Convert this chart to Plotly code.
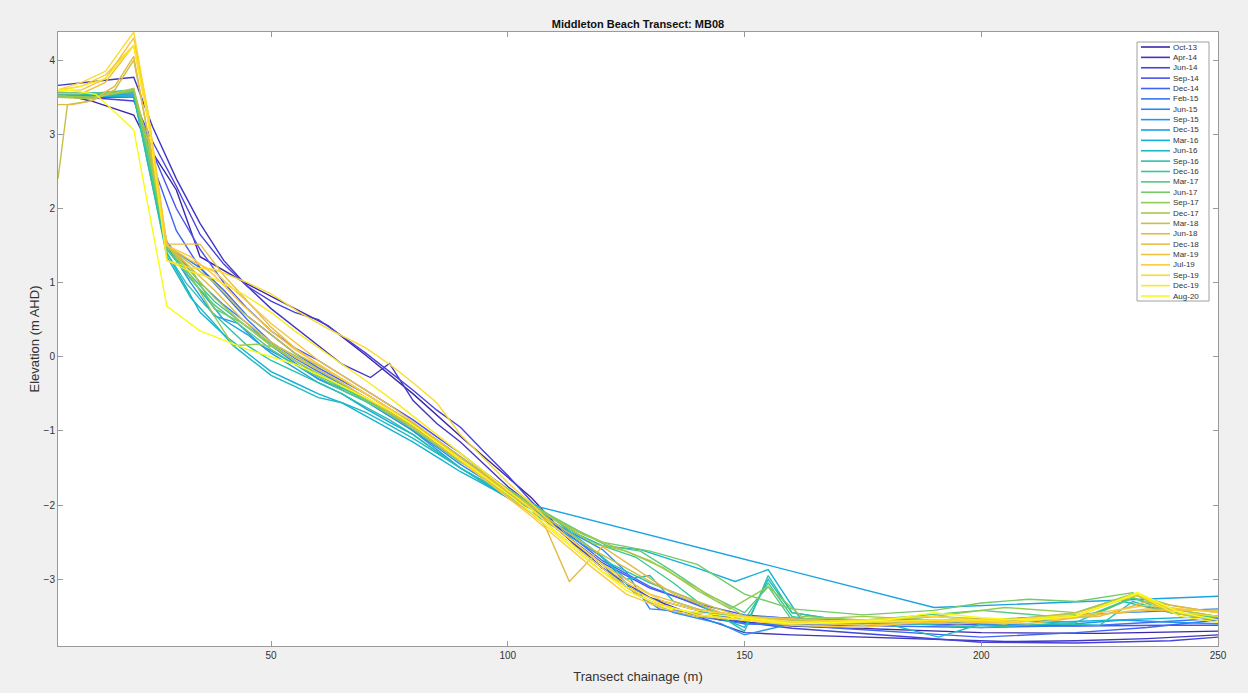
import plotly.graph_objects as go
from plotly.colors import sample_colorscale

# survey labels
surveys = ["Oct-13", "Apr-14", "Jun-14", "Sep-14", "Dec-14", "Feb-15", "Jun-15", "Sep-15",
           "Dec-15", "Mar-16", "Jun-16", "Sep-16", "Dec-16", "Mar-17", "Jun-17", "Sep-17",
           "Dec-17", "Mar-18", "Jun-18", "Dec-18", "Mar-19", "Jul-19", "Sep-19", "Dec-19", "Aug-20"]

# chainage (m) / elevation (m AHD) per survey
x_oct13 = [5, 12, 21, 25, 30, 35, 45, 56, 62, 70, 80, 91, 100, 105, 115, 125, 135, 145, 160, 180, 200, 225, 250]
y_oct13 = [3.55, 3.45, 3.26, 2.75, 2.25, 1.35, 0.98, 0.62, 0.42, 0.02, -0.5, -1.13, -1.62, -1.9, -2.6, -3.1, -3.4, -3.55, -3.63, -3.68, -3.72, -3.73, -3.7]

x_apr14 = [5, 10, 15, 21, 25, 30, 35, 40, 45, 50, 55, 60, 65, 71, 75, 80, 85, 90, 95, 100, 105, 110, 120, 130, 140, 150, 160, 175, 190, 205, 220, 235, 250]
y_apr14 = [3.66, 3.7, 3.73, 3.77, 3.1, 2.4, 1.8, 1.3, 0.95, 0.65, 0.4, 0.15, -0.1, -0.28, -0.09, -0.59, -0.9, -1.15, -1.45, -1.75, -2.0, -2.3, -2.85, -3.25, -3.5, -3.72, -3.75, -3.78, -3.82, -3.84, -3.83, -3.8, -3.75]

x_jun14 = [5, 10, 15, 21, 25, 30, 35, 40, 45, 50, 55, 60, 65, 70, 75, 80, 85, 90, 95, 100, 105, 112, 120, 130, 140, 150, 160, 180, 200, 220, 240, 250]
y_jun14 = [3.55, 3.5, 3.48, 3.45, 2.9, 2.3, 1.65, 1.25, 0.95, 0.75, 0.6, 0.5, 0.28, 0.05, -0.2, -0.45, -0.72, -0.95, -1.28, -1.6, -1.95, -2.4, -2.85, -3.25, -3.42, -3.58, -3.66, -3.75, -3.85, -3.86, -3.83, -3.78]

x_sep14 = [5, 12, 21, 26, 30, 35, 40, 45, 50, 55, 60, 65, 70, 75, 80, 85, 90, 95, 100, 105, 110, 120, 130, 140, 150, 165, 180, 200, 220, 240, 250]
y_sep14 = [3.52, 3.5, 3.5, 2.6, 2.0, 1.45, 1.0, 0.65, 0.35, 0.12, -0.05, -0.25, -0.45, -0.65, -0.85, -1.08, -1.3, -1.55, -1.78, -2.02, -2.3, -2.78, -3.12, -3.33, -3.48, -3.56, -3.6, -3.62, -3.63, -3.62, -3.62]

x_dec14 = [5, 12, 21, 25, 30, 35, 40, 45, 50, 55, 60, 65, 70, 75, 80, 85, 90, 95, 100, 105, 110, 120, 130, 140, 150, 160, 180, 200, 220, 235, 250]
y_dec14 = [3.5, 3.52, 3.55, 2.6, 1.7, 1.2, 0.9, 0.55, 0.3, 0.05, -0.15, -0.32, -0.5, -0.7, -0.9, -1.12, -1.35, -1.58, -1.8, -2.02, -2.25, -2.75, -3.1, -3.35, -3.6, -3.62, -3.7, -3.78, -3.72, -3.65, -3.55]

x_feb15 = [5, 12, 21, 24, 28, 35, 40, 45, 50, 55, 60, 65, 70, 75, 80, 85, 90, 95, 100, 105, 110, 120, 125, 132, 140, 150, 170, 200, 225, 250]
y_feb15 = [3.55, 3.55, 3.58, 2.8, 1.5, 1.2, 0.85, 0.5, 0.2, -0.02, -0.2, -0.38, -0.55, -0.75, -0.95, -1.18, -1.4, -1.62, -1.85, -2.05, -2.3, -2.8, -3.1, -3.4, -3.5, -3.6, -3.62, -3.65, -3.62, -3.53]

x_jun15 = [5, 12, 21, 24, 28, 35, 40, 45, 50, 55, 60, 65, 70, 75, 80, 85, 90, 95, 100, 105, 110, 120, 125, 130, 140, 150, 170, 200, 230, 250]
y_jun15 = [3.5, 3.52, 3.55, 2.7, 1.55, 1.0, 0.7, 0.45, 0.15, -0.08, -0.3, -0.45, -0.6, -0.8, -1.0, -1.22, -1.45, -1.65, -1.85, -2.05, -2.25, -2.6, -2.9, -3.4, -3.45, -3.5, -3.55, -3.55, -3.45, -3.4]

x_sep15 = [5, 12, 21, 24, 28, 33, 38, 43, 48, 55, 60, 65, 70, 75, 80, 85, 90, 95, 100, 105, 110, 120, 127, 135, 145, 150, 160, 180, 200, 210, 220, 230, 240, 250]
y_sep15 = [3.55, 3.55, 3.52, 2.8, 1.5, 1.0, 0.55, 0.45, 0.15, -0.1, -0.3, -0.42, -0.55, -0.75, -1.0, -1.25, -1.5, -1.7, -1.9, -2.1, -2.3, -2.7, -3.2, -3.45, -3.6, -3.75, -3.6, -3.55, -3.6, -3.62, -3.6, -3.55, -3.58, -3.6]

x_dec15 = [5, 12, 21, 24, 28, 35, 40, 45, 50, 55, 60, 65, 70, 75, 80, 85, 90, 95, 100, 107, 190, 250]
y_dec15 = [3.55, 3.55, 3.56, 2.8, 1.45, 0.9, 0.5, 0.3, 0.05, -0.15, -0.35, -0.5, -0.7, -0.88, -1.05, -1.28, -1.5, -1.68, -1.85, -2.03, -3.38, -3.23]

x_mar16 = [5, 12, 21, 24, 28, 35, 40, 45, 50, 55, 60, 65, 70, 75, 80, 85, 90, 95, 100, 105, 110, 115, 120, 128, 134, 140, 148, 155, 162, 175, 190, 200, 215, 230, 250]
y_mar16 = [3.55, 3.52, 3.5, 2.7, 1.4, 0.6, 0.3, 0.05, -0.2, -0.35, -0.5, -0.62, -0.8, -0.98, -1.15, -1.35, -1.55, -1.72, -1.9, -2.05, -2.2, -2.4, -2.55, -2.6, -2.72, -2.85, -3.03, -2.87, -3.55, -3.6, -3.5, -3.55, -3.58, -3.55, -3.5]

x_jun16 = [5, 12, 21, 24, 28, 33, 38, 42, 46, 50, 55, 60, 65, 70, 75, 80, 85, 90, 95, 100, 105, 110, 118, 125, 130, 135, 140, 150, 155, 160, 170, 180, 191, 200, 210, 220, 230, 240, 250]
y_jun16 = [3.55, 3.54, 3.52, 2.6, 1.35, 0.8, 0.45, 0.15, -0.05, -0.25, -0.4, -0.55, -0.62, -0.75, -0.92, -1.1, -1.3, -1.5, -1.7, -1.88, -2.05, -2.25, -2.6, -3.0, -2.95, -3.3, -3.4, -3.65, -3.0, -3.45, -3.55, -3.6, -3.78, -3.6, -3.55, -3.58, -3.3, -3.45, -3.55]

x_sep16 = [5, 12, 21, 24, 28, 32, 36, 40, 45, 50, 55, 60, 65, 70, 75, 80, 85, 90, 95, 100, 105, 110, 115, 122, 130, 138, 145, 150, 155, 160, 170, 185, 200, 215, 225, 232, 240, 250]
y_sep16 = [3.55, 3.55, 3.55, 2.6, 1.4, 1.0, 0.7, 0.45, 0.15, -0.05, -0.2, -0.35, -0.5, -0.68, -0.85, -1.05, -1.28, -1.5, -1.68, -1.85, -2.02, -2.2, -2.45, -2.8, -3.05, -3.25, -3.5, -3.7, -2.95, -3.45, -3.55, -3.6, -3.65, -3.6, -3.62, -3.3, -3.45, -3.5]

x_dec16 = [5, 12, 21, 24, 28, 33, 38, 44, 50, 55, 60, 65, 70, 75, 80, 85, 90, 95, 100, 105, 110, 115, 120, 127, 135, 142, 150, 155, 160, 170, 180, 195, 210, 222, 232, 240, 250]
y_dec16 = [3.55, 3.55, 3.6, 2.7, 1.45, 1.1, 0.75, 0.45, 0.15, -0.05, -0.25, -0.42, -0.58, -0.75, -0.95, -1.15, -1.38, -1.58, -1.8, -2.0, -2.2, -2.4, -2.55, -2.7, -3.05, -3.4, -3.55, -3.05, -3.5, -3.6, -3.58, -3.55, -3.55, -3.5, -3.25, -3.45, -3.52]

x_mar17 = [5, 12, 21, 24, 28, 33, 38, 44, 50, 55, 60, 65, 70, 75, 80, 85, 90, 95, 100, 105, 110, 115, 121, 128, 135, 142, 150, 155, 160, 170, 185, 200, 215, 225, 232, 240, 250]
y_mar17 = [3.55, 3.55, 3.58, 2.7, 1.45, 1.05, 0.7, 0.4, 0.1, -0.1, -0.28, -0.45, -0.6, -0.78, -0.98, -1.2, -1.42, -1.6, -1.82, -2.0, -2.18, -2.35, -2.55, -2.62, -2.9, -3.2, -3.45, -3.1, -3.55, -3.58, -3.5, -3.42, -3.5, -3.45, -3.25, -3.4, -3.5]

x_jun17 = [5, 12, 21, 24, 28, 33, 38, 44, 50, 55, 60, 65, 70, 75, 80, 85, 90, 95, 100, 105, 110, 115, 120, 130, 140, 150, 160, 175, 190, 200, 210, 220, 232, 240, 250]
y_jun17 = [3.52, 3.5, 3.58, 2.8, 1.5, 1.2, 0.65, 0.45, 0.18, -0.05, -0.25, -0.4, -0.58, -0.78, -0.95, -1.15, -1.38, -1.58, -1.78, -1.98, -2.18, -2.35, -2.5, -2.62, -2.8, -3.2, -3.4, -3.48, -3.42, -3.32, -3.27, -3.3, -3.18, -3.45, -3.5]

x_sep17 = [5, 12, 21, 24, 28, 33, 38, 42, 47, 52, 57, 62, 67, 72, 77, 82, 87, 92, 97, 102, 107, 112, 118, 125, 133, 140, 147, 155, 162, 175, 190, 205, 220, 232, 240, 250]
y_sep17 = [3.52, 3.5, 3.6, 2.8, 1.5, 1.1, 0.55, 0.15, 0.17, 0.12, -0.05, -0.25, -0.45, -0.62, -0.82, -1.05, -1.28, -1.5, -1.7, -1.9, -2.08, -2.28, -2.52, -2.62, -2.85, -3.15, -3.4, -3.1, -3.5, -3.55, -3.5, -3.38, -3.45, -3.2, -3.35, -3.45]

x_dec17 = [5, 12, 21, 24, 28, 33, 38, 44, 50, 55, 60, 65, 70, 75, 80, 85, 90, 95, 100, 105, 110, 116, 122, 130, 138, 145, 150, 160, 175, 190, 205, 220, 232, 240, 250]
y_dec17 = [3.5, 3.48, 3.62, 2.9, 1.5, 1.15, 0.8, 0.45, 0.15, -0.05, -0.22, -0.4, -0.55, -0.75, -0.92, -1.15, -1.38, -1.6, -1.82, -2.0, -2.2, -2.4, -2.55, -2.75, -3.05, -3.3, -3.5, -3.55, -3.5, -3.55, -3.6, -3.45, -3.2, -3.4, -3.5]

x_mar18 = [5, 7, 12, 17, 21, 24, 28, 33, 38, 44, 50, 55, 60, 65, 70, 75, 80, 85, 90, 95, 100, 105, 110, 118, 125, 132, 140, 150, 160, 175, 190, 205, 220, 233, 240, 250]
y_mar18 = [2.4, 3.4, 3.45, 3.6, 4.0, 3.0, 1.5, 1.25, 1.0, 0.6, 0.3, 0.05, -0.12, -0.3, -0.5, -0.7, -0.9, -1.12, -1.35, -1.58, -1.8, -2.02, -2.25, -2.6, -2.85, -3.1, -3.3, -3.52, -3.55, -3.58, -3.5, -3.55, -3.45, -3.22, -3.45, -3.55]

x_jun18 = [5, 8, 12, 17, 21, 24, 28, 33, 38, 44, 50, 55, 60, 65, 70, 75, 80, 85, 90, 95, 100, 105, 108, 113, 120, 128, 135, 145, 155, 165, 180, 195, 210, 225, 235, 250]
y_jun18 = [3.4, 3.4, 3.45, 3.65, 4.05, 3.0, 1.5, 1.2, 0.9, 0.5, 0.2, 0.0, -0.18, -0.35, -0.55, -0.75, -0.95, -1.18, -1.4, -1.62, -1.85, -2.05, -2.3, -3.03, -2.56, -2.9, -3.2, -3.45, -3.58, -3.6, -3.55, -3.6, -3.55, -3.5, -3.3, -3.45]

x_dec18 = [5, 10, 15, 21, 24, 28, 30, 35, 40, 45, 50, 55, 60, 65, 70, 75, 80, 85, 90, 95, 100, 105, 110, 120, 130, 140, 150, 165, 180, 195, 210, 225, 235, 250]
y_dec18 = [3.55, 3.55, 3.7, 4.2, 3.2, 1.52, 1.52, 1.52, 1.1, 0.75, 0.4, 0.12, -0.1, -0.3, -0.5, -0.7, -0.92, -1.15, -1.38, -1.6, -1.82, -2.05, -2.3, -2.8, -3.2, -3.4, -3.5, -3.55, -3.58, -3.55, -3.6, -3.48, -3.4, -3.43]

x_mar19 = [5, 10, 15, 21, 24, 28, 33, 38, 44, 50, 55, 60, 65, 70, 75, 80, 85, 90, 95, 100, 105, 110, 120, 130, 140, 150, 160, 175, 190, 205, 220, 235, 250]
y_mar19 = [3.58, 3.6, 3.75, 4.3, 3.3, 1.5, 1.3, 1.15, 0.8, 0.45, 0.2, -0.05, -0.25, -0.45, -0.65, -0.88, -1.12, -1.38, -1.62, -1.88, -2.12, -2.38, -2.9, -3.3, -3.48, -3.55, -3.58, -3.62, -3.58, -3.55, -3.5, -3.42, -3.42]

x_jul19 = [5, 10, 15, 21, 24, 28, 33, 38, 44, 50, 55, 60, 65, 70, 75, 80, 85, 90, 95, 100, 105, 110, 118, 125, 133, 140, 150, 160, 175, 190, 205, 220, 235, 250]
y_jul19 = [3.6, 3.65, 3.8, 4.2, 3.3, 1.5, 1.35, 1.1, 0.7, 0.35, 0.1, -0.1, -0.3, -0.5, -0.7, -0.92, -1.15, -1.4, -1.65, -1.9, -2.15, -2.42, -2.85, -3.2, -3.4, -3.5, -3.55, -3.62, -3.65, -3.55, -3.6, -3.5, -3.35, -3.45]

x_sep19 = [5, 10, 15, 21, 24, 28, 33, 38, 45, 50, 56, 62, 70, 75, 80, 85, 90, 95, 100, 105, 110, 118, 125, 133, 140, 150, 160, 175, 190, 205, 220, 233, 242, 250]
y_sep19 = [3.6, 3.7, 3.85, 4.38, 3.3, 1.3, 1.2, 1.18, 1.0, 0.85, 0.6, 0.38, 0.12, -0.1, -0.35, -0.62, -1.05, -1.38, -1.7, -1.98, -2.3, -2.7, -3.05, -3.3, -3.42, -3.5, -3.58, -3.55, -3.5, -3.58, -3.5, -3.2, -3.45, -3.5]

x_dec19 = [5, 10, 15, 21, 24, 28, 33, 38, 44, 50, 55, 60, 65, 70, 75, 80, 85, 90, 95, 100, 105, 110, 118, 125, 133, 140, 150, 160, 175, 190, 205, 220, 233, 242, 250]
y_dec19 = [3.58, 3.65, 3.75, 4.2, 3.2, 1.3, 1.15, 1.05, 0.85, 0.6, 0.35, 0.12, -0.1, -0.32, -0.55, -0.8, -1.05, -1.3, -1.55, -1.8, -2.05, -2.35, -2.75, -3.1, -3.35, -3.48, -3.55, -3.6, -3.58, -3.55, -3.55, -3.48, -3.2, -3.5, -3.58]

x_aug20 = [5, 9, 13, 21, 28, 35, 45, 55, 62, 70, 75, 80, 85, 90, 95, 100, 105, 110, 118, 125, 133, 140, 150, 160, 170, 180, 190, 200, 210, 220, 233, 242, 250]
y_aug20 = [3.6, 3.58, 3.54, 3.06, 0.68, 0.35, 0.1, -0.1, -0.3, -0.55, -0.72, -0.92, -1.15, -1.38, -1.62, -1.85, -2.1, -2.38, -2.8, -3.15, -3.38, -3.45, -3.52, -3.6, -3.58, -3.55, -3.45, -3.52, -3.55, -3.5, -3.18, -3.45, -3.55]

profiles = [
    (x_oct13, y_oct13), (x_apr14, y_apr14), (x_jun14, y_jun14), (x_sep14, y_sep14),
    (x_dec14, y_dec14), (x_feb15, y_feb15), (x_jun15, y_jun15), (x_sep15, y_sep15),
    (x_dec15, y_dec15), (x_mar16, y_mar16), (x_jun16, y_jun16), (x_sep16, y_sep16),
    (x_dec16, y_dec16), (x_mar17, y_mar17), (x_jun17, y_jun17), (x_sep17, y_sep17),
    (x_dec17, y_dec17), (x_mar18, y_mar18), (x_jun18, y_jun18), (x_dec18, y_dec18),
    (x_mar19, y_mar19), (x_jul19, y_jul19), (x_sep19, y_sep19), (x_dec19, y_dec19),
    (x_aug20, y_aug20),
]

# MATLAB parula colour map (approx.)
parula = [[0.0, "#3e26a8"], [0.125, "#4852f4"], [0.25, "#2e87f7"], [0.375, "#12b1d6"],
          [0.5, "#37c897"], [0.625, "#92cb4f"], [0.75, "#e2ba44"], [0.875, "#fcc93a"],
          [1.0, "#f9fb14"]]
n = len(surveys)
colours = sample_colorscale(parula, [i / (n - 1) for i in range(n)])

fig = go.Figure()
for name, (xs, ys), c in zip(surveys, profiles, colours):
    fig.add_trace(go.Scatter(x=xs, y=ys, mode="lines", name=name,
                             line=dict(color=c, width=1.4)))

# MATLAB-style legend box, drawn by hand so it stays compact
px_l, px_r, px_t, px_b = 58, 1218, 32, 646
def px_x(p):
    return (p - px_l) / (px_r - px_l)
def px_y(p):
    return (px_b - p) / (px_b - px_t)

shapes = [dict(type="rect", xref="paper", yref="paper",
               x0=px_x(1137), x1=px_x(1209), y0=px_y(301), y1=px_y(42),
               fillcolor="white", line=dict(color="#a0a0a0", width=1), layer="above")]
annotations = []
for i, (name, c) in enumerate(zip(surveys, colours)):
    yy = px_y(47 + i * 10.375)
    shapes.append(dict(type="line", xref="paper", yref="paper",
                       x0=px_x(1141), x1=px_x(1170), y0=yy, y1=yy,
                       line=dict(color=c, width=1.6), layer="above"))
    annotations.append(dict(x=px_x(1171), y=yy, xref="paper", yref="paper",
                            text=name, showarrow=False, xanchor="left", yanchor="middle",
                            font=dict(size=8, color="#333333")))

fig.update_layout(
    width=1248, height=693,
    paper_bgcolor="#f0f0f0", plot_bgcolor="white",
    margin=dict(l=58, r=30, t=32, b=47),
    font=dict(family="Liberation Sans, Arial, sans-serif", color="#333333"),
    title=dict(text="<b>Middleton Beach Transect: MB08</b>", x=0.5, xref="paper",
               y=1 - 24 / 693, yref="container", yanchor="middle",
               font=dict(size=11, color="#111111")),
    showlegend=False,
    shapes=shapes, annotations=annotations,
)
fig.update_xaxes(range=[5, 250], tickvals=[50, 100, 150, 200, 250],
                 showgrid=False, zeroline=False, showline=True, mirror="ticks",
                 linecolor="#9a9a9a", ticks="inside", ticklen=5, tickcolor="#9a9a9a",
                 tickfont=dict(size=10),
                 title=dict(text="Transect chainage (m)", font=dict(size=13), standoff=11))
fig.update_yaxes(range=[-3.9, 4.38], tickvals=[-3, -2, -1, 0, 1, 2, 3, 4],
                 showgrid=False, zeroline=False, showline=True, mirror="ticks",
                 linecolor="#9a9a9a", ticks="inside", ticklen=5, tickcolor="#9a9a9a",
                 tickfont=dict(size=10),
                 title=dict(text="Elevation (m AHD)", font=dict(size=13), standoff=1))

# drop the default page margin so the figure sits flush in the window
fig.write_html("out.html", config={"displayModeBar": False},
               post_script="document.body.style.margin='0';document.body.style.background='#f0f0f0';")
